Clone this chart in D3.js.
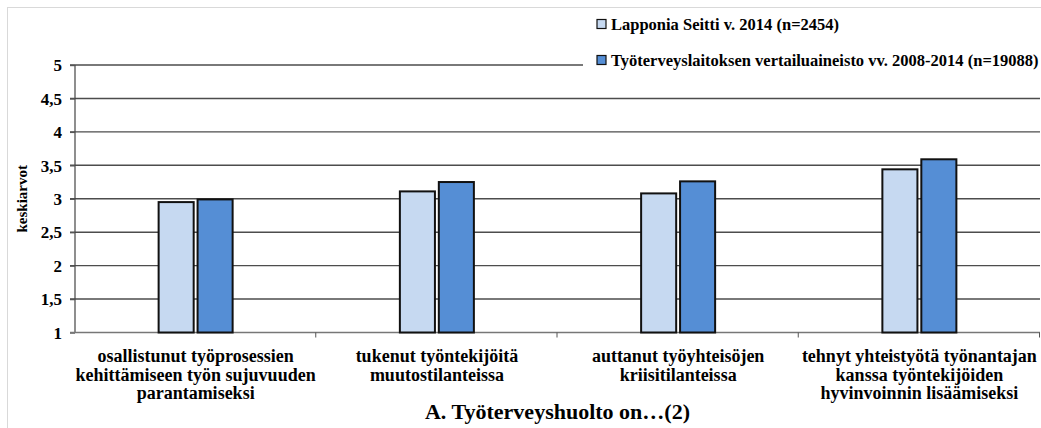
<!DOCTYPE html>
<html>
<head>
<meta charset="utf-8">
<script src="https://cdn.jsdelivr.net/npm/d3@7"></script>
<style>
  html, body { margin: 0; padding: 0; background: #fff; }
  svg text { font-family: "Liberation Serif", "Times New Roman", serif; font-weight: bold; }
</style>
</head>
<body>
<svg id="chart" width="1041" height="428"></svg>
<script>
// Category labels (one entry per line of each label)
const categories = [
  ["osallistunut työprosessien", "kehittämiseen työn sujuvuuden", "parantamiseksi"],
  ["tukenut työntekijöitä", "muutostilanteissa"],
  ["auttanut työyhteisöjen", "kriisitilanteissa"],
  ["tehnyt yhteistyötä työnantajan", "kanssa työntekijöiden", "hyvinvoinnin lisäämiseksi"]
];
const seriesNames = [
  "Lapponia Seitti v. 2014 (n=2454)",
  "Työterveyslaitoksen vertailuaineisto vv. 2008-2014 (n=19088)"
];
const lapponia = [2.95, 3.11, 3.08, 3.44];
const vertailu = [2.99, 3.25, 3.26, 3.59];
const yTicks = [1, 1.5, 2, 2.5, 3, 3.5, 4, 4.5, 5];
const yTickLabels = ["1", "1,5", "2", "2,5", "3", "3,5", "4", "4,5", "5"];
const seriesColors = ["#C6D9F1", "#558ED5"];
const axisTitle = "A. Työterveyshuolto on…(2)";
const yTitle = "keskiarvot";

const serif = "'Liberation Serif', 'Times New Roman', serif";
const svg = d3.select("#chart");

// outer frame
svg.append("rect")
  .attr("x", 7.5).attr("y", 7.5)
  .attr("width", 1060).attr("height", 440)
  .attr("fill", "none").attr("stroke", "#d9d9d9").attr("stroke-width", 1);

const plot = { left: 75, right: 1040, top: 65, bottom: 332.5 };

const idx = categories.map((d, i) => i);
const x0 = d3.scaleBand().domain(idx).range([plot.left, plot.right]).padding(0);
const x1 = d3.scaleBand().domain([0, 1]).range([0, 74]).paddingInner(0.1);
const y = d3.scaleLinear().domain([1, 5]).range([plot.bottom, plot.top]);

// horizontal gridlines (top one stops short of the legend)
svg.append("g").selectAll("line")
  .data(yTicks.filter(v => v > 1))
  .join("line")
  .attr("x1", plot.left - 5)
  .attr("x2", v => v === 5 ? 583 : plot.right)
  .attr("y1", v => y(v)).attr("y2", v => y(v))
  .attr("stroke", "#4d4d4d").attr("stroke-width", 1.4);

// y axis
const yAxis = d3.axisLeft(y)
  .tickValues(yTicks)
  .tickFormat((d, i) => yTickLabels[i])
  .tickSize(5)
  .tickPadding(8);
const gy = svg.append("g").attr("transform", `translate(${plot.left},0)`).call(yAxis)
  .attr("font-family", serif).attr("font-size", 17);
gy.select(".domain").attr("stroke", "#444").attr("stroke-width", 1.2).attr("d", `M0,${plot.top}V${plot.bottom}`);
gy.selectAll(".tick line").attr("stroke", "#555").attr("stroke-width", 1.4);
gy.selectAll(".tick text").attr("fill", "#000").attr("dy", "0.34em");

// x axis baseline with boundary ticks
const gx = svg.append("g");
gx.append("line")
  .attr("x1", plot.left - 5).attr("x2", plot.right)
  .attr("y1", plot.bottom).attr("y2", plot.bottom)
  .attr("stroke", "#777").attr("stroke-width", 1.6);
gx.selectAll("line.tk")
  .data(idx.map(i => x0(i) + x0.bandwidth()))
  .join("line").attr("class", "tk")
  .attr("x1", d => d - 0.5).attr("x2", d => d - 0.5)
  .attr("y1", plot.bottom).attr("y2", plot.bottom + 5)
  .attr("stroke", "#555").attr("stroke-width", 1);

// bars
const series = [lapponia, vertailu];
const groups = svg.append("g").selectAll("g")
  .data(idx)
  .join("g")
  .attr("transform", i => `translate(${x0(i) + x0.bandwidth() / 2 - 37},0)`);
groups.selectAll("rect")
  .data(i => series.map((s, k) => ({ k, v: s[i] })))
  .join("rect")
  .attr("x", d => x1(d.k))
  .attr("width", x1.bandwidth())
  .attr("y", d => y(d.v))
  .attr("height", d => y(1) - y(d.v))
  .attr("fill", d => seriesColors[d.k])
  .attr("stroke", "#111")
  .attr("stroke-width", 2);

// category labels
const labels = svg.append("g").selectAll("text")
  .data(idx)
  .join("text")
  .attr("text-anchor", "middle")
  .attr("font-size", 18)
  .attr("fill", "#000")
  .attr("transform", i => `translate(${x0(i) + x0.bandwidth() / 2},0)`);
labels.selectAll("tspan")
  .data(i => categories[i])
  .join("tspan")
  .attr("x", 0)
  .attr("y", (d, j) => 362 + j * 18.5)
  .text(d => d);

// x axis title
svg.append("text")
  .attr("x", (plot.left + plot.right) / 2)
  .attr("y", 418.5)
  .attr("text-anchor", "middle")
  .attr("font-size", 22)
  .attr("fill", "#000")
  .text(axisTitle);

// y axis title
svg.append("text")
  .attr("transform", `translate(27,${(plot.top + plot.bottom) / 2}) rotate(-90)`)
  .attr("text-anchor", "middle")
  .attr("font-size", 15)
  .attr("fill", "#000")
  .text(yTitle);

// legend
const legend = svg.append("g").selectAll("g")
  .data(seriesNames)
  .join("g")
  .attr("transform", (d, i) => `translate(597,${24 + i * 36})`);
legend.append("rect")
  .attr("x", 0).attr("y", -4.5)
  .attr("width", 9).attr("height", 9)
  .attr("fill", (d, i) => seriesColors[i])
  .attr("stroke", "#111").attr("stroke-width", 1.2);
legend.append("text")
  .attr("x", 14).attr("y", 5.5)
  .attr("font-size", 16.5)
  .attr("fill", "#000")
  .text(d => d);
</script>
</body>
</html>
